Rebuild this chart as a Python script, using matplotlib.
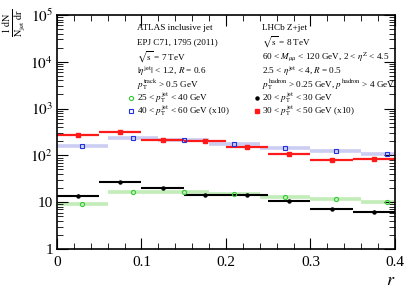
import numpy as np
import matplotlib
matplotlib.use("Agg")
from matplotlib import pyplot as plt
from matplotlib.ticker import FixedLocator, NullFormatter

plt.rcParams["font.family"] = ["Liberation Serif", "DejaVu Serif"]
plt.rcParams["mathtext.fontset"] = "stix"

# ATLAS inclusive jet (bin edges in r)
atlas_edges = [0.0, 0.06, 0.12, 0.18, 0.24, 0.30, 0.36, 0.42]
atlas_25_40 = [9.0, 16.8, 16.8, 14.7, 12.9, 11.7, 10.3]
atlas_40_60_x10 = [161, 239, 209, 175, 144, 124, 105]

# LHCb Z+jet
lhcb_edges = [0.0, 0.05, 0.10, 0.15, 0.20, 0.25, 0.30, 0.35, 0.40]
lhcb_20_30 = [13.8, 27.0, 20.4, 14.3, 14.0, 10.8, 7.2, 6.3]
lhcb_20_30_err = [1.0, 1.5, 1.0, 0.7, 0.7, 0.6, 0.5, 0.5]
lhcb_30_50_x10 = [273, 316, 217, 206, 151, 107, 78.6, 82.5]
lhcb_30_50_err = [20, 20, 14, 13, 10, 8, 7, 7]


def centers(edges):
    e = np.array(edges)
    return 0.5 * (e[:-1] + e[1:])


fig = plt.figure(figsize=(4.07, 2.97), dpi=100)
ax = fig.add_axes([0.140, 0.1616, 0.8305, 0.788])

ae = np.array(atlas_edges)
le = np.array(lhcb_edges)

ax.hlines(atlas_25_40, ae[:-1], ae[1:], color="#c2ecb8", lw=2.6, zorder=1)
ax.hlines(atlas_40_60_x10, ae[:-1], ae[1:], color="#cbcdf2", lw=2.6, zorder=1)
ax.plot(centers(atlas_edges), atlas_25_40, "o", ms=3, mfc="none", mec="#33cc33", mew=0.8, zorder=3)
ax.plot(centers(atlas_edges), atlas_40_60_x10, "s", ms=3, mfc="none", mec="#2233dd", mew=0.8, zorder=3)

ax.hlines(lhcb_20_30, le[:-1], le[1:], color="black", lw=1.5, zorder=2)
ax.hlines(lhcb_30_50_x10, le[:-1], le[1:], color="#ff1a1a", lw=1.6, zorder=2)
ax.errorbar(centers(lhcb_edges), lhcb_20_30, yerr=lhcb_20_30_err, fmt="o", ms=2.2,
            color="black", elinewidth=0.8, capsize=0, zorder=4)
ax.errorbar(centers(lhcb_edges), lhcb_30_50_x10, yerr=lhcb_30_50_err, fmt="s", ms=2.5,
            color="#ff1a1a", elinewidth=0.8, capsize=0, zorder=4)

ax.set_xlim(0, 0.4)
ax.set_yscale("log")
ax.set_ylim(1, 1e5)
ax.set_xticks([0, 0.1, 0.2, 0.3, 0.4])
ax.set_xticklabels(["0", "0.1", "0.2", "0.3", "0.4"])
ax.xaxis.set_minor_locator(FixedLocator(np.arange(0, 0.401, 0.02)))
ax.set_yticks([1, 10, 100, 1e3, 1e4, 1e5])
ax.set_yticklabels(["1", "10", r"$10^2$", r"$10^3$", r"$10^4$", r"$10^5$"])
ax.yaxis.set_minor_formatter(NullFormatter())
ax.tick_params(which="both", direction="in", top=True, right=True, labelsize=11)
ax.tick_params(which="major", length=8, width=0.8)
ax.tick_params(which="minor", length=4, width=0.6)
ax.tick_params(axis="x", pad=5)
ax.tick_params(axis="y", pad=3)
for s in ax.spines.values():
    s.set_linewidth(1.2)

ax.set_xlabel(r"$r$", fontsize=13, loc="right", labelpad=2)
fig.text(0.002, 0.97, r"$\frac{1\ \mathrm{dN}}{\mathrm{N_{jet}\ dr}}$",
         rotation=90, fontsize=10.5, ha="left", va="top")

fs = 6.6
lx, rx = 137, 262
rows = [28, 42, 57, 71, 85, 98, 111]
left_txt = [
    "ATLAS inclusive jet",
    "EPJ C71, 1795 (2011)",
    r"$\sqrt{\mathrm{s}}$ = 7 TeV",
    r"$|\eta^{\mathrm{jet}}|$ < 1.2, $R$ = 0.6",
    r"$p_{\mathrm{T}}^{\mathrm{track}}$ > 0.5 GeV",
    r"25 < $p_{\mathrm{T}}^{\mathrm{jet}}$ < 40 GeV",
    r"40 < $p_{\mathrm{T}}^{\mathrm{jet}}$ < 60 GeV (x10)",
]
right_txt = [
    "LHCb Z+jet",
    r"$\sqrt{\mathrm{s}}$ = 8 TeV",
    r"60 < $M_{\mu\mu}$ < 120 GeV, 2 < $\eta^{\mathrm{Z}}$ < 4.5",
    r"2.5 < $\eta^{\mathrm{jet}}$ < 4, $R$ = 0.5",
    r"$p_{\mathrm{T}}^{\mathrm{hadron}}$ > 0.25 GeV, $p^{\mathrm{hadron}}$ > 4 GeV",
    r"20 < $p_{\mathrm{T}}^{\mathrm{jet}}$ < 30 GeV",
    r"30 < $p_{\mathrm{T}}^{\mathrm{jet}}$ < 50 GeV (x10)",
]
W, H = 407, 297
for y, t in zip(rows, left_txt):
    fig.text(lx / W, 1 - y / H, t, fontsize=fs, ha="left", va="center")
for y, t in zip(rows, right_txt):
    fig.text(rx / W, 1 - y / H, t, fontsize=fs, ha="left", va="center")

# legend markers
fig.lines.append(plt.Line2D([131 / W], [1 - 98 / H], marker="o", ms=3, mfc="none",
                            mec="#33cc33", mew=0.8, transform=fig.transFigure))
fig.lines.append(plt.Line2D([131 / W], [1 - 111 / H], marker="s", ms=3, mfc="none",
                            mec="#2233dd", mew=0.8, transform=fig.transFigure))
fig.lines.append(plt.Line2D([257 / W], [1 - 98 / H], marker="o", ms=2.2, color="black",
                            transform=fig.transFigure))
fig.lines.append(plt.Line2D([257 / W], [1 - 111 / H], marker="s", ms=2.5, color="#ff1a1a",
                            transform=fig.transFigure))

fig.savefig("out.png", dpi=100)
